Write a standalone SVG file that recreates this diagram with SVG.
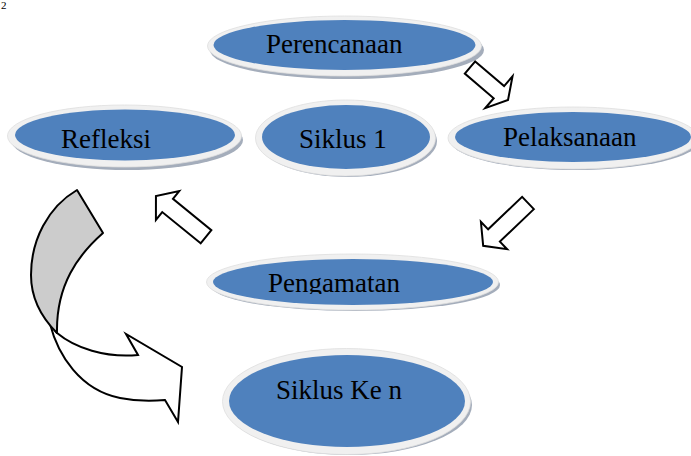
<svg xmlns="http://www.w3.org/2000/svg" width="691" height="456" viewBox="0 0 691 456">
<defs>
<style>
.shadow{fill:#a4adbb}
.rim{fill:#f0f0f0;stroke:#dedede;stroke-width:0.8}
.blue{fill:#4f81bd}
.lbl{font-family:"Liberation Serif","Times New Roman",serif;font-size:27px;fill:#000}
.arr{fill:#fff;stroke:#000;stroke-width:2;stroke-linejoin:miter}
</style>
<clipPath id="clipPeng"><rect x="200" y="240" width="310" height="54"/></clipPath>
</defs>
<rect width="691" height="456" fill="#fff"/>
<text x="1" y="9" font-family="Liberation Serif, serif" font-size="11">2</text>

<g id="perencanaan">
<ellipse class="shadow" cx="347" cy="50" rx="137" ry="29"/>
<ellipse class="rim" cx="344.5" cy="46" rx="137" ry="30"/>
<ellipse class="blue" cx="344.5" cy="45" rx="131" ry="25"/>
<text class="lbl" x="266" y="53">Perencanaan</text>
</g>

<g id="refleksi">
<ellipse class="shadow" cx="127" cy="140" rx="116" ry="30"/>
<ellipse class="rim" cx="124.5" cy="136" rx="117" ry="31"/>
<ellipse class="blue" cx="125" cy="135" rx="110" ry="25.5"/>
<text class="lbl" x="61" y="148">Refleksi</text>
</g>

<g id="siklus1">
<ellipse class="shadow" cx="348" cy="141" rx="89" ry="36"/>
<ellipse class="rim" cx="345.5" cy="138" rx="90" ry="38"/>
<ellipse class="blue" cx="346" cy="137" rx="84" ry="32"/>
<text class="lbl" x="299" y="148">Siklus 1</text>
</g>

<g id="pelaksanaan">
<ellipse class="shadow" cx="575" cy="141" rx="124" ry="29"/>
<ellipse class="rim" cx="573" cy="138" rx="125" ry="31"/>
<ellipse class="blue" cx="573" cy="137" rx="118" ry="25"/>
<text class="lbl" x="503" y="146">Pelaksanaan</text>
</g>

<g id="pengamatan">
<ellipse class="shadow" cx="355" cy="285" rx="145" ry="26"/>
<ellipse class="rim" cx="352.5" cy="282" rx="146" ry="28"/>
<ellipse class="blue" cx="353" cy="282" rx="140" ry="23"/>
<text class="lbl" x="268" y="292" clip-path="url(#clipPeng)">Pengamatan</text>
</g>

<g id="siklusken">
<ellipse class="shadow" cx="349" cy="405" rx="123" ry="50"/>
<ellipse class="rim" cx="346.5" cy="401.5" rx="124" ry="53"/>
<ellipse class="blue" cx="347" cy="401" rx="118" ry="46"/>
<text class="lbl" x="276" y="399">Siklus Ke n</text>
</g>

<g id="connectors">
<polygon class="arr" points="0,-8 38,-8 38,-21 50,0 38,21 38,8 0,8" transform="translate(470,67.5) rotate(40.5)"/>
<polygon class="arr" points="0,-8.5 47,-8.5 47,-19 62,0 47,19 47,8.5 0,8.5" transform="translate(528,203) rotate(136.3)"/>
<polygon class="arr" points="0,-8.5 49.5,-8.5 49.5,-18.5 64.5,0 49.5,18.5 49.5,8.5 0,8.5" transform="translate(206,236.7) rotate(-140.9)"/>
<path class="arr" d="M50,324 C58,355 80,390 120,398 C140,402 155,401 165,400 L178,422 L182,367 L126,334 L138,355 C105,358 75,348 57,333 Z"/>
<path fill="#cccccc" stroke="#000" stroke-width="2" stroke-linejoin="round" d="M77,190 L103,233 C78,255 56,285 57,333 C42,318 31,298 31,275 C31,240 48,207 77,190 Z"/>
</g>
</svg>
